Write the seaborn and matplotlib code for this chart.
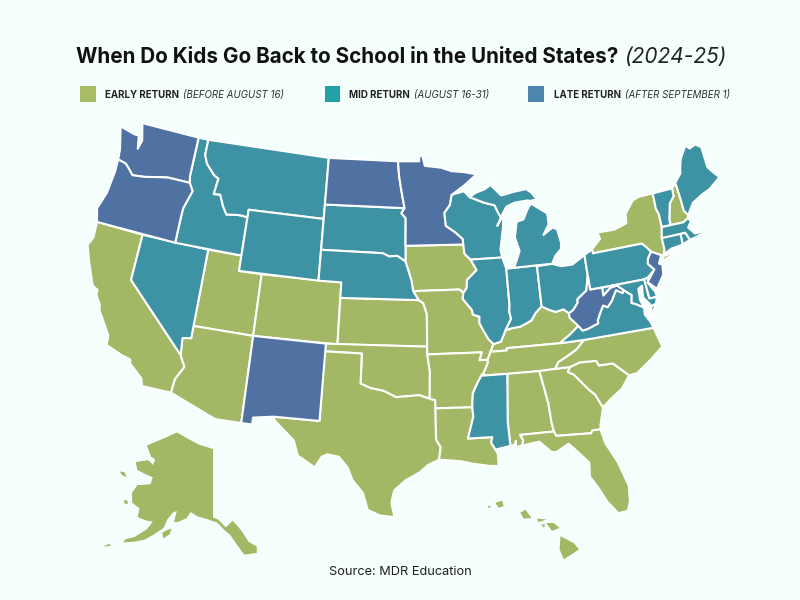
import numpy as np
import pandas as pd
import matplotlib.pyplot as plt
import seaborn as sns

# shared wiggly borders, (lon, lat), north to south / west to east
MN_WI = [(-92.1, 46.75), (-92.3, 46.1), (-92.85, 45.6), (-92.75, 44.75), (-91.9, 44.3), (-91.25, 43.85), (-91.22, 43.5)]
WI_IA = [(-91.22, 43.5), (-91.15, 42.9), (-90.64, 42.5)]
IA_IL = [(-90.64, 42.5), (-90.15, 41.8), (-91.05, 41.2), (-91.1, 40.7), (-91.42, 40.38)]
MO_IL = [(-91.42, 40.38), (-91.5, 40.0), (-90.75, 39.25), (-90.7, 38.95), (-90.15, 38.8), (-90.2, 38.4), (-89.9, 37.9), (-89.5, 37.3), (-89.13, 36.98)]
TN_AR = [(-89.7, 36.0), (-89.7, 35.8), (-90.1, 35.15), (-90.3, 35.0)]
AR_MS = [(-90.3, 35.0), (-90.6, 34.6), (-91.05, 33.9), (-91.15, 33.0)]
LA_MS = [(-91.15, 33.0), (-91.1, 32.4), (-91.6, 31.0), (-89.73, 31.0), (-89.85, 30.65), (-89.55, 30.18)]
IL_KY = [(-89.13, 36.98), (-88.5, 37.1), (-88.05, 37.8)]
IN_KY = [(-88.05, 37.8), (-87.5, 37.9), (-86.8, 37.95), (-86.3, 38.1), (-85.8, 38.28), (-85.4, 38.72), (-84.82, 39.1)]
OH_KY = [(-84.82, 39.1), (-84.3, 38.85), (-83.7, 38.63), (-83.0, 38.73), (-82.6, 38.42)]
OH_WV = [(-82.6, 38.42), (-82.2, 38.6), (-81.75, 39.0), (-81.7, 39.25), (-80.85, 39.7), (-80.52, 40.64)]
KY_WV = [(-82.6, 38.42), (-82.6, 38.15), (-81.97, 37.54)]
KY_VA = [(-81.97, 37.54), (-82.7, 37.1), (-83.68, 36.6)]
KY_TN = [(-83.68, 36.6), (-88.07, 36.65), (-88.07, 36.5), (-89.42, 36.5)]
WV_VA = [(-81.97, 37.54), (-81.68, 37.2), (-81.25, 37.25), (-80.3, 37.5), (-80.3, 37.7), (-79.95, 38.2), (-79.65, 38.58), (-79.3, 38.42), (-78.87, 38.76), (-78.35, 39.4), (-77.83, 39.14), (-77.72, 39.32)]
WV_MD = [(-77.72, 39.32), (-78.2, 39.68), (-78.8, 39.6), (-79.48, 39.2), (-79.48, 39.72)]
MD_VA = [(-77.72, 39.32), (-77.1, 38.9), (-77.25, 38.4), (-76.95, 38.3), (-76.3, 37.95)]
TN_NC = [(-84.32, 35.0), (-84.0, 35.4), (-83.1, 35.75), (-82.4, 36.05), (-81.68, 36.59)]
NC_SC = [(-78.55, 33.86), (-79.67, 34.8), (-80.8, 34.82), (-80.93, 35.1), (-81.05, 35.15), (-82.3, 35.2), (-83.11, 35.0)]
GA_SC = [(-83.11, 35.0), (-83.35, 34.7), (-82.9, 34.48), (-81.9, 33.4), (-81.45, 33.0), (-81.0, 32.1)]
GA_FL = [(-85.0, 31.0), (-84.86, 30.7), (-82.2, 30.57), (-82.05, 30.75), (-81.45, 30.72)]
AL_GA = [(-85.6, 34.98), (-85.18, 32.87), (-85.1, 31.6), (-85.0, 31.0)]
AL_FL = [(-85.0, 31.0), (-87.6, 31.0), (-87.4, 30.65), (-87.5, 30.3)]
TX_OK = [(-103.06, 36.5), (-100.0, 36.5), (-100.0, 34.56), (-99.2, 34.3), (-98.1, 34.13), (-97.15, 33.75), (-96.5, 33.8), (-95.3, 33.88), (-94.48, 33.64)]
NE_SD = [(-104.05, 43.0), (-98.5, 43.0), (-97.9, 42.8), (-97.2, 42.85), (-96.45, 42.49)]
NE_IA = [(-96.45, 42.49), (-96.1, 41.7), (-95.9, 41.2), (-95.77, 40.58)]
ND_MN = [(-97.23, 49.0), (-97.1, 48.0), (-96.85, 47.0), (-96.56, 45.94)]
SD_MN = [(-96.56, 45.94), (-96.85, 45.6), (-96.45, 45.3), (-96.45, 43.5)]
WI_MI = [(-90.4, 46.55), (-89.1, 46.13), (-88.1, 45.9), (-87.8, 45.35), (-87.6, 45.1)]
OR_WA = [(-124.0, 46.27), (-123.2, 46.15), (-122.8, 45.9), (-122.3, 45.55), (-121.2, 45.65), (-119.6, 45.92), (-118.98, 46.0), (-116.92, 45.99)]
OR_ID = [(-116.92, 45.99), (-116.5, 45.5), (-117.0, 44.3), (-117.03, 43.8), (-117.03, 42.0)]
ID_MT = [(-116.05, 49.0), (-116.05, 48.0), (-115.7, 47.45), (-114.8, 46.8), (-114.35, 46.65), (-114.5, 45.6), (-113.9, 45.65), (-113.45, 44.95), (-113.0, 44.45), (-112.0, 44.55), (-111.5, 44.55), (-111.05, 44.48)]
NY_NJ = [(-73.9, 41.0), (-74.7, 41.36)]
PA_NJ = [(-74.7, 41.36), (-75.1, 40.95), (-75.2, 40.65), (-74.75, 40.2), (-75.42, 39.8)]
NH_VT = [(-71.5, 45.01), (-71.55, 44.5), (-72.05, 44.1), (-72.45, 43.1), (-72.46, 42.73)]
ME_NH = [(-71.08, 45.3), (-71.0, 44.3), (-70.98, 43.4), (-70.7, 43.07)]
CA_AZ = [(-114.63, 35.0), (-114.15, 34.3), (-114.7, 33.4), (-114.8, 32.5)]

STATES = {
    "WA": [[(-124.7, 48.38), (-123.2, 48.15), (-122.75, 48.15), (-122.5, 47.3), (-122.3, 47.9), (-122.75, 49.0), (-117.03, 49.0), (-117.04, 46.42)] + OR_WA[::-1] + [(-124.1, 46.9)]],
    "OR": [OR_WA + OR_ID + [(-124.2, 42.0), (-124.55, 42.85), (-124.1, 44.0), (-123.95, 45.5)]],
    "CA": [[(-124.2, 42.0), (-120.0, 42.0), (-120.0, 39.0)] + CA_AZ + [(-117.12, 32.53), (-117.3, 33.0), (-118.4, 33.75), (-118.5, 34.03), (-119.2, 34.15), (-120.6, 34.55), (-120.65, 35.15), (-121.9, 36.6), (-122.0, 36.95), (-122.5, 37.5), (-122.5, 37.8), (-123.0, 38.0), (-123.8, 39.3), (-124.4, 40.4), (-124.1, 41.0)]],
    "NV": [[(-120.0, 42.0), (-114.04, 42.0), (-114.05, 36.2), (-114.75, 36.1), (-114.63, 35.0), (-120.0, 39.0)]],
    "ID": [[(-117.03, 49.0)] + ID_MT + [(-111.05, 42.0)] + OR_ID[::-1] + [(-117.04, 46.42)]],
    "MT": [[(-116.05, 49.0), (-104.05, 49.0), (-104.05, 45.0), (-111.05, 45.0)] + ID_MT[::-1]],
    "WY": [[(-111.05, 45.0), (-104.05, 45.0), (-104.05, 41.0), (-111.05, 41.0)]],
    "UT": [[(-114.04, 42.0), (-111.05, 42.0), (-111.05, 41.0), (-109.05, 41.0), (-109.05, 37.0), (-114.05, 37.0)]],
    "CO": [[(-109.05, 41.0), (-102.05, 41.0), (-102.05, 37.0), (-109.05, 37.0)]],
    "AZ": [[(-114.05, 37.0), (-109.05, 37.0), (-109.05, 31.33), (-111.07, 31.33)] + CA_AZ[::-1] + [(-114.75, 36.1), (-114.05, 36.2)]],
    "NM": [[(-109.05, 37.0), (-103.0, 37.0), (-103.06, 32.0), (-106.62, 32.0), (-108.2, 31.78), (-108.2, 31.33), (-109.05, 31.33)]],
    "ND": [[(-104.05, 49.0)] + ND_MN + [(-104.05, 45.94)]],
    "SD": [[(-104.05, 45.94)] + SD_MN + NE_SD[::-1]],
    "NE": [NE_SD + NE_IA + [(-95.3, 40.0), (-102.05, 40.0), (-102.05, 41.0), (-104.05, 41.0)]],
    "KS": [[(-102.05, 40.0), (-95.3, 40.0), (-94.9, 39.8), (-94.61, 39.1), (-94.62, 37.0), (-102.04, 37.0)]],
    "OK": [[(-103.0, 37.0), (-94.62, 37.0), (-94.62, 36.5), (-94.43, 35.4)] + TX_OK[::-1]],
    "TX": [TX_OK + [(-94.04, 33.55), (-94.04, 31.0), (-93.7, 30.5), (-93.85, 29.7), (-94.7, 29.35), (-95.3, 28.9), (-96.4, 28.35), (-97.2, 27.7), (-97.4, 26.9), (-97.15, 25.96), (-98.2, 26.05), (-99.1, 26.4), (-99.5, 27.5), (-100.3, 28.3), (-100.7, 29.1), (-101.4, 29.77), (-102.3, 29.88), (-102.7, 29.7), (-103.15, 28.98), (-104.5, 29.65), (-104.9, 30.6), (-106.5, 31.75), (-106.62, 32.0), (-103.06, 32.0)]],
    "MN": [[(-97.23, 49.0), (-95.15, 49.0), (-95.15, 49.38), (-94.8, 49.3), (-94.6, 48.7), (-93.0, 48.55), (-92.0, 48.3), (-90.8, 48.2), (-89.6, 48.0), (-90.9, 47.3)] + MN_WI + SD_MN[::-1] + ND_MN[::-1]],
    "IA": [[(-96.45, 43.5), (-91.22, 43.5)] + WI_IA + IA_IL + [(-91.73, 40.61)] + NE_IA[::-1]],
    "MO": [[(-95.77, 40.58), (-91.73, 40.61)] + MO_IL + [(-89.42, 36.5), (-89.7, 36.0), (-90.37, 36.0), (-90.15, 36.5), (-94.62, 36.5), (-94.62, 37.0), (-94.61, 39.1), (-94.9, 39.8), (-95.3, 40.0)]],
    "AR": [[(-94.62, 36.5), (-90.15, 36.5), (-90.37, 36.0)] + TN_AR + AR_MS + [(-94.04, 33.02), (-94.04, 33.55), (-94.48, 33.64), (-94.43, 35.4)]],
    "LA": [[(-94.04, 33.02)] + LA_MS + [(-89.4, 29.9), (-89.4, 29.1), (-90.1, 29.15), (-91.3, 29.35), (-92.2, 29.55), (-93.85, 29.7), (-93.7, 30.5), (-94.04, 31.0)]],
    "WI": [[(-92.1, 46.75), (-90.9, 46.95)] + WI_MI + [(-88.0, 44.55), (-87.35, 45.25), (-87.5, 44.4), (-87.9, 43.0), (-87.8, 42.49)] + WI_IA[::-1] + MN_WI[::-1]],
    "IL": [[(-90.64, 42.5), (-87.8, 42.49), (-87.53, 41.75), (-87.53, 39.35), (-87.6, 39.0), (-87.5, 38.5)] + IL_KY[::-1] + MO_IL[::-1] + IA_IL[::-1]],
    "IN": [[(-87.53, 41.75), (-87.2, 41.75), (-84.81, 41.76)] + IN_KY[::-1] + [(-87.5, 38.5), (-87.6, 39.0), (-87.53, 39.35)]],
    "OH": [[(-84.81, 41.7), (-83.45, 41.73), (-82.7, 41.5), (-81.7, 41.5), (-80.52, 41.98)] + OH_WV[::-1] + OH_KY[::-1]],
    "MI": [[(-86.82, 41.76), (-84.81, 41.76), (-83.45, 41.73), (-83.1, 42.2), (-82.5, 42.6), (-82.42, 43.0), (-82.6, 43.9), (-83.0, 44.05), (-83.9, 43.65), (-83.3, 44.3), (-83.3, 45.0), (-84.7, 45.78), (-85.1, 45.4), (-85.55, 44.8), (-86.2, 44.7), (-86.5, 43.7), (-86.2, 42.8)],
           WI_MI + [(-87.0, 45.75), (-86.2, 45.95), (-85.0, 46.0), (-84.7, 45.95), (-84.1, 46.0), (-84.5, 46.45), (-85.0, 46.75), (-86.2, 46.65), (-87.4, 46.5), (-87.9, 46.9), (-88.4, 47.3), (-87.8, 47.47), (-88.9, 47.0), (-89.8, 46.8)]],
    "KY": [IL_KY + IN_KY + OH_KY + KY_WV + KY_VA + KY_TN],
    "TN": [[(-90.3, 35.0), (-88.2, 35.0), (-85.6, 34.98)] + TN_NC + KY_VA[2:] + KY_TN + TN_AR],
    "MS": [[(-90.3, 35.0), (-88.2, 35.0), (-88.47, 31.9), (-88.4, 30.35)] + LA_MS[::-1] + AR_MS[::-1]],
    "AL": [[(-88.2, 35.0)] + AL_GA + AL_FL + [(-88.0, 30.25), (-87.95, 30.65), (-88.15, 30.35), (-88.4, 30.35), (-88.47, 31.9)]],
    "GA": [AL_GA[:1] + [(-84.32, 35.0)] + GA_SC + [(-81.4, 31.0)] + GA_FL[::-1] + AL_GA[::-1]],
    "FL": [AL_FL[::-1] + GA_FL + [(-81.25, 29.8), (-80.55, 28.45), (-80.03, 26.8), (-80.15, 25.75), (-80.4, 25.2), (-81.1, 25.15), (-81.75, 26.0), (-82.2, 26.9), (-82.75, 27.8), (-82.65, 28.7), (-83.4, 29.5), (-84.0, 30.1), (-85.0, 29.65), (-85.35, 29.7), (-86.2, 30.45)]],
    "SC": [NC_SC + GA_SC + [(-80.4, 32.5), (-79.3, 33.1)]],
    "NC": [TN_NC + [(-75.87, 36.55), (-75.5, 35.25), (-76.5, 34.65), (-77.9, 33.9)] + NC_SC + [(-84.32, 35.0)]],
    "VA": [[(-83.68, 36.6), (-81.68, 36.59), (-75.87, 36.55), (-76.0, 36.93), (-76.35, 37.5)] + MD_VA[::-1] + WV_VA[::-1] + KY_VA,
           [(-75.25, 38.03), (-75.95, 37.15), (-75.65, 37.95)]],
    "WV": [OH_WV + [(-80.52, 39.72)] + WV_MD[::-1] + WV_VA[::-1] + KY_WV[::-1]],
    "MD": [WV_MD[::-1][:1] + [(-75.79, 39.72), (-75.7, 38.46), (-75.05, 38.45), (-75.25, 38.03), (-75.65, 37.95), (-76.2, 38.6), (-76.1, 39.35), (-76.45, 39.2), (-76.5, 38.5)] + MD_VA[::-1] + WV_MD],
    "DE": [[(-75.79, 39.72), (-75.42, 39.8), (-75.55, 39.45), (-75.1, 38.8), (-75.05, 38.45), (-75.7, 38.46)]],
    "PA": [[(-80.52, 41.98), (-79.76, 42.27), (-79.76, 42.0), (-75.35, 42.0), (-75.05, 41.75)] + PA_NJ + [(-75.79, 39.72), (-80.52, 39.72), (-80.52, 40.64)]],
    "NJ": [NY_NJ + PA_NJ[1:4] + [(-75.55, 39.5), (-74.9, 38.95), (-74.1, 39.75), (-73.98, 40.4), (-74.25, 40.5)]],
    "NY": [[(-79.76, 42.27), (-78.9, 42.85), (-79.05, 43.27), (-77.5, 43.25), (-76.3, 43.5), (-76.2, 44.1), (-75.3, 44.85), (-74.7, 45.0), (-73.35, 45.0), (-73.4, 44.0), (-73.25, 43.6), (-73.27, 42.75), (-73.5, 42.05), (-73.5, 41.3), (-73.65, 41.0)] + NY_NJ + [(-75.05, 41.75), (-75.35, 42.0), (-79.76, 42.0)],
           [(-74.0, 40.6), (-72.0, 41.05), (-73.7, 40.9)]],
    "VT": [[(-73.35, 45.0)] + NH_VT + [(-73.27, 42.75), (-73.25, 43.6), (-73.4, 44.0)]],
    "NH": [NH_VT[:1] + ME_NH + [(-70.82, 42.87), (-71.3, 42.7)] + NH_VT[::-1]],
    "ME": [[(-71.08, 45.3), (-70.4, 45.8), (-70.25, 46.2), (-70.0, 46.7), (-69.23, 47.46), (-68.9, 47.2), (-68.3, 47.35), (-67.8, 47.07), (-67.8, 45.7), (-67.45, 45.3), (-67.0, 44.85), (-68.2, 44.3), (-69.0, 44.1), (-70.0, 43.75)] + ME_NH[::-1]],
    "MA": [[(-73.5, 42.05), (-73.27, 42.75), (-72.46, 42.73), (-71.3, 42.7), (-70.82, 42.87), (-70.6, 42.65), (-71.0, 42.3), (-70.55, 41.8), (-70.0, 41.8), (-70.05, 42.05), (-69.95, 41.67), (-70.65, 41.55), (-71.13, 41.5), (-71.38, 42.02), (-71.8, 42.02)]],
    "RI": [[(-71.8, 42.02), (-71.38, 42.02), (-71.13, 41.5), (-71.85, 41.32)]],
    "CT": [[(-73.5, 42.05), (-71.8, 42.02), (-71.85, 41.32), (-72.9, 41.25), (-73.65, 41.0), (-73.5, 41.3)]],
}

ALASKA = [
    [(-141.0, 69.65), (-141.0, 60.3), (-139.5, 60.0), (-137.5, 58.9), (-135.5, 59.75), (-133.5, 58.4), (-131.8, 56.6), (-130.0, 55.9), (-130.2, 55.0), (-131.8, 55.0), (-133.3, 55.0), (-134.6, 56.2), (-136.5, 57.9), (-137.8, 58.5), (-139.8, 59.6), (-142.5, 60.05), (-145.5, 60.4), (-147.5, 60.9), (-148.5, 60.0), (-150.5, 59.4), (-151.8, 59.2), (-151.5, 60.8), (-150.0, 61.2), (-152.5, 60.5), (-153.8, 59.4), (-154.3, 58.2), (-156.5, 57.0), (-158.5, 56.0), (-161.0, 55.3), (-163.3, 54.8), (-163.0, 55.3), (-161.0, 56.0), (-158.5, 57.5), (-157.5, 58.7), (-159.0, 58.6), (-161.8, 58.7), (-162.0, 59.9), (-164.5, 60.3), (-165.5, 61.5), (-164.8, 62.8), (-163.0, 63.1), (-161.0, 63.5), (-161.0, 64.5), (-163.0, 64.55), (-166.5, 64.7), (-168.0, 65.6), (-164.3, 66.5), (-162.0, 66.1), (-162.0, 66.9), (-163.7, 67.1), (-166.5, 68.3), (-163.0, 69.5), (-160.0, 70.4), (-156.6, 71.35), (-152.0, 70.85), (-147.0, 70.2)],
    [(-154.4, 57.5), (-153.3, 58.0), (-152.2, 58.3), (-152.4, 57.5), (-153.9, 56.8)],
    [(-166.9, 60.2), (-166.0, 60.35), (-165.5, 59.9), (-166.5, 59.8)],
    [(-171.5, 63.5), (-170.0, 63.7), (-168.8, 63.2), (-170.3, 63.2)],
    [(-167.0, 53.5), (-166.2, 54.0), (-165.9, 53.7), (-167.5, 53.2)],
]
HAWAII = [
    [(-155.9, 20.25), (-155.1, 19.85), (-154.8, 19.5), (-155.7, 18.95), (-155.95, 19.5)],
    [(-156.75, 21.0), (-156.3, 21.0), (-155.95, 20.72), (-156.4, 20.55)],
    [(-157.05, 20.92), (-156.82, 20.92), (-156.88, 20.72)],
    [(-157.3, 21.25), (-156.72, 21.2), (-157.2, 21.05)],
    [(-158.3, 21.58), (-158.0, 21.75), (-157.62, 21.28), (-158.1, 21.25)],
    [(-159.8, 22.12), (-159.4, 22.26), (-159.3, 21.95), (-159.6, 21.85)],
    [(-160.25, 21.95), (-160.05, 21.95), (-160.2, 21.8)],
]

EARLY_STATES = ["CA", "UT", "CO", "AZ", "KS", "OK", "TX", "IA", "MO", "AR", "LA", "KY", "TN", "AL", "GA", "FL", "SC", "NC", "NY", "NH"]
MID_STATES = ["NV", "ID", "MT", "WY", "SD", "NE", "WI", "IL", "IN", "MI", "OH", "MS", "PA", "VA", "MD", "DE", "VT", "ME", "MA", "RI", "CT"]
LATE_STATES = ["WA", "OR", "ND", "MN", "NM", "WV", "NJ"]

LEGEND_NAMES = ["EARLY RETURN", "MID RETURN", "LATE RETURN"]
LEGEND_NOTES = ["(BEFORE AUGUST 16)", "(AUGUST 16-31)", "(AFTER SEPTEMBER 1)"]
LEGEND_X = [88, 332.5, 536]
MAP_COLORS = {"early": "#A3B865", "mid": "#3D93A3", "late": "#4F72A3"}
LEGEND_COLORS = ["#A9BC66", "#22A2A8", "#4F86B0"]
BG = "#F5FFFE"


def albers(points, lon0, lat0, p1, p2):
    # conic equal-area, result in km
    lon, lat = np.radians(np.array(points)).T
    lon0, lat0, p1, p2 = np.radians([lon0, lat0, p1, p2])
    n = (np.sin(p1) + np.sin(p2)) / 2
    c = np.cos(p1) ** 2 + 2 * n * np.sin(p1)
    rho = np.sqrt(c - 2 * n * np.sin(lat)) / n
    rho0 = np.sqrt(c - 2 * n * np.sin(lat0)) / n
    theta = n * (lon - lon0)
    return 6371 * rho * np.sin(theta), 6371 * (rho0 - rho * np.cos(theta))


def map_axes(fig, sx, sy, x_px, y_px):
    # full figure axes, projected origin sits at pixel (x_px, y_px), scale in px/km
    ax = fig.add_axes([0, 0, 1, 1])
    ax.set_xlim(-x_px / sx, (800 - x_px) / sx)
    ax.set_ylim(-(600 - y_px) / sy, y_px / sy)
    ax.axis("off")
    ax.patch.set_alpha(0)
    return ax


def draw_parts(ax, parts, color, proj, lw=1.5):
    for part in parts:
        x, y = albers(part, *proj)
        ax.fill(x, y, facecolor=color, edgecolor="white", linewidth=lw, joinstyle="round")


sns.set_theme(style="white")
plt.rcParams["font.family"] = ["Inter", "Open Sans", "DejaVu Sans"]

fig = plt.figure(figsize=(8, 6), dpi=100, facecolor=BG)

main = map_axes(fig, 0.1375, 0.1385, 410.5, 339)
for names, key in [(EARLY_STATES, "early"), (MID_STATES, "mid"), (LATE_STATES, "late")]:
    for name in names:
        draw_parts(main, STATES[name], MAP_COLORS[key], (-96, 37.5, 29.5, 45.5))

ak = map_axes(fig, 0.064, 0.066, 213, 505)
draw_parts(ak, ALASKA, MAP_COLORS["early"], (-141, 62, 55, 65), lw=0)
hi = map_axes(fig, 0.16, 0.16, 542, 523)
draw_parts(hi, HAWAII, MAP_COLORS["early"], (-157, 21, 8, 18), lw=0)

# overlay in pixel units for the title block and legend
top = fig.add_axes([0, 0, 1, 1])
top.patch.set_alpha(0)

legend_df = pd.DataFrame({"x": LEGEND_X, "y": [94, 94, 94], "group": LEGEND_NAMES})
sns.scatterplot(data=legend_df, x="x", y="y", hue="group", palette=LEGEND_COLORS, marker="s",
                s=130, linewidth=0, legend=False, ax=top)
top.set_xlim(0, 800)
top.set_ylim(600, 0)
top.axis("off")

top.text(76, 63, "When Do Kids Go Back to School in the United States?", fontsize=14.85,
         fontweight="bold", color="#111111", va="baseline")
top.text(624, 63, "(2024-25)", fontsize=15, style="italic", color="#222222", va="baseline")

name_x = [105, 349, 554]
note_x = [183, 414, 625]
for i in range(3):
    top.text(name_x[i], 98, LEGEND_NAMES[i], fontsize=7, fontweight="bold", color="#222222", va="baseline")
    top.text(note_x[i], 98, LEGEND_NOTES[i], fontsize=7.0, style="italic", color="#333333", va="baseline")

top.text(400, 575, "Source: MDR Education", fontsize=9.2, color="#222222", ha="center", va="baseline")

fig.savefig("out.png", dpi=100, facecolor=BG)
